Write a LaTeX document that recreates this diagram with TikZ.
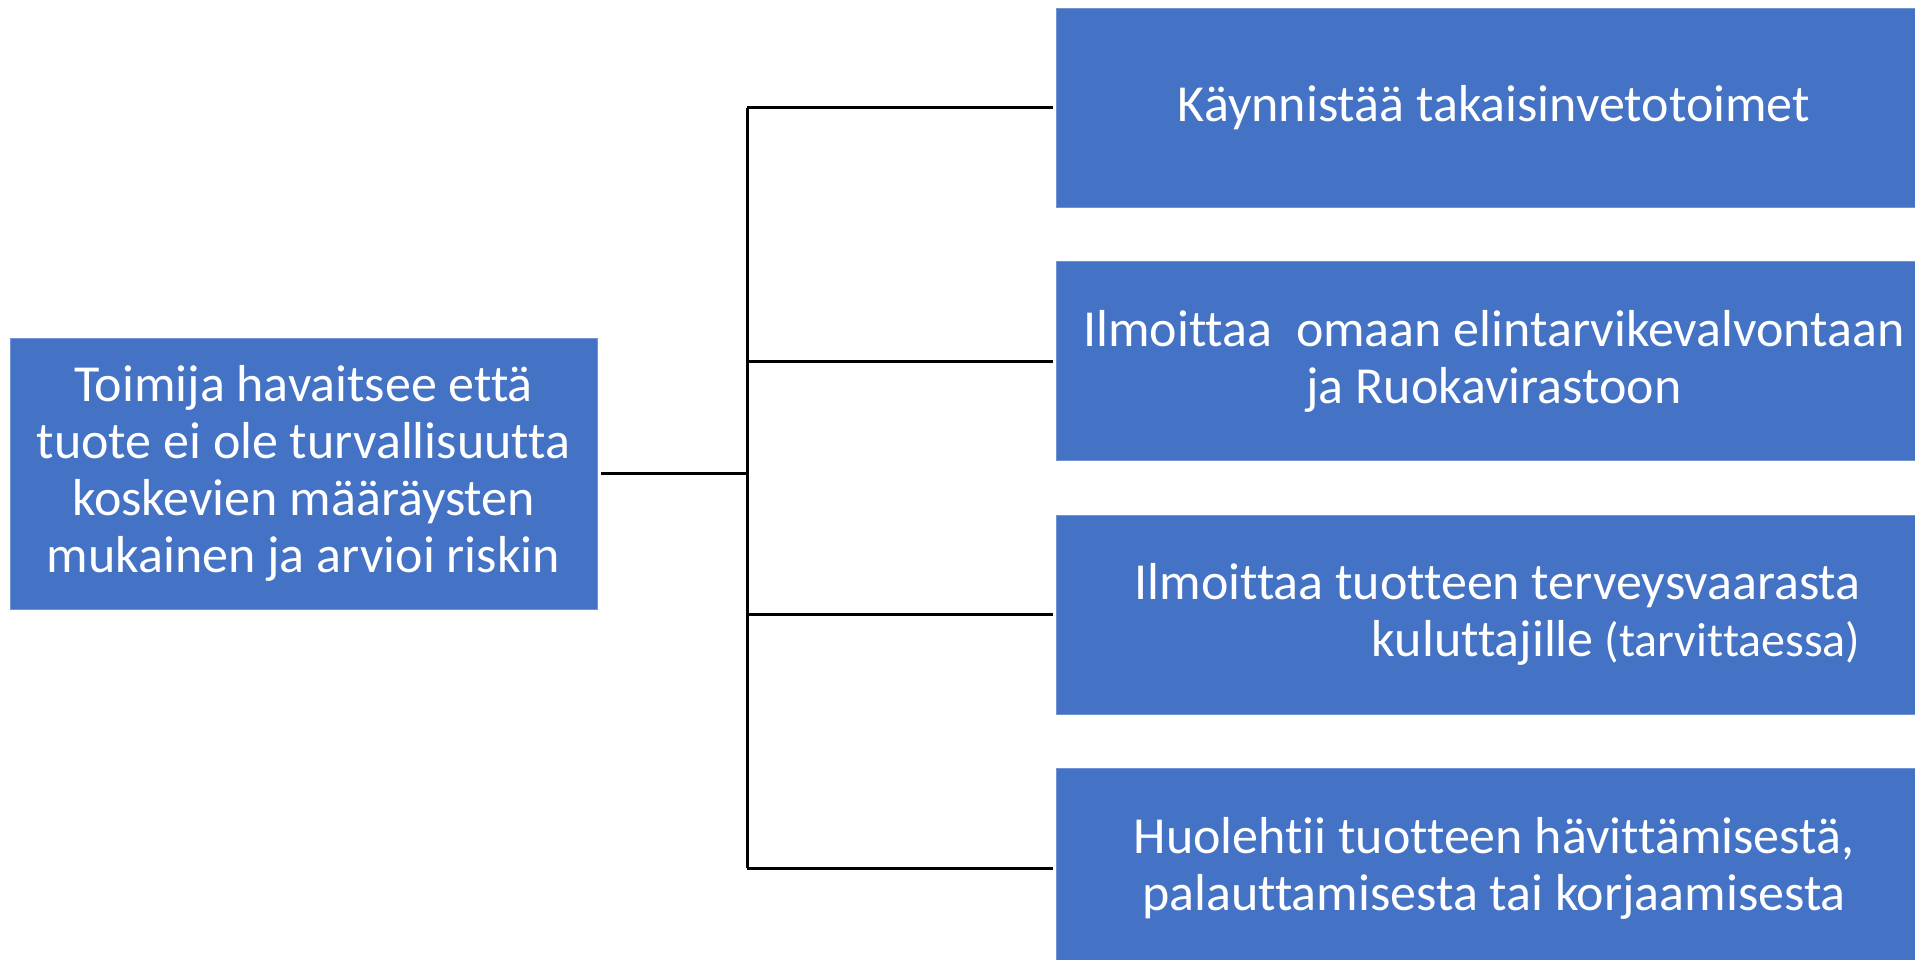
\documentclass[tikz,border=0pt]{standalone}
\usepackage{fontspec}
\setmainfont{Carlito}[Ligatures=NoCommon]
\definecolor{boxblue}{HTML}{4472C4}
\definecolor{boxedge}{HTML}{6F93D3}
\begin{document}
\begin{tikzpicture}[x=1pt,y=-1pt,
  box/.style={rectangle, fill=boxblue, draw=boxedge, line width=1pt, inner sep=0pt,
    text=white, font=\fontsize{52}{57}\selectfont, align=center},
  rbox/.style={box, minimum width=876pt, minimum height=199pt},
  conn/.style={line width=3pt, black, line cap=butt}]
\useasboundingbox (0,0) rectangle (1915,960);
\fill[white] (0,0) rectangle (1915,960);
\node[box, minimum width=587pt, minimum height=271pt] (L) at (303.5,473.5)
  {Toimija havaitsee että\\tuote ei ole turvallisuutta\\koskevien määräysten\\mukainen ja arvioi riskin};
\node[rbox] (R1) at (1494,108) {Käynnistää takaisinvetotoimet};
\node[rbox] (R2) at (1494,361) {Ilmoittaa\ \ omaan elintarvikevalvontaan\\ja Ruokavirastoon};
\node[rbox, align=right] (R3) at (1494,614.5) {\hspace*{7pt}Ilmoittaa tuotteen terveysvaarasta\hspace{7pt}\\kuluttajille{\fontsize{48}{57}\selectfont\ (tarvittaessa)}};
\node[rbox] (R4) at (1494,868) {Huolehtii tuotteen hävittämisestä,\\palauttamisesta tai korjaamisesta};
\coordinate (J) at (747,473.5);
\draw[conn, shorten <=3pt] (L.east) -- (J);
\draw[conn] (J |- R1.west) -- (J |- R4.west);
\foreach \r in {R1,R2,R3,R4}
  \draw[conn, shorten >=3pt] (J |- \r.west) -- (\r.west);
\end{tikzpicture}
\end{document}
